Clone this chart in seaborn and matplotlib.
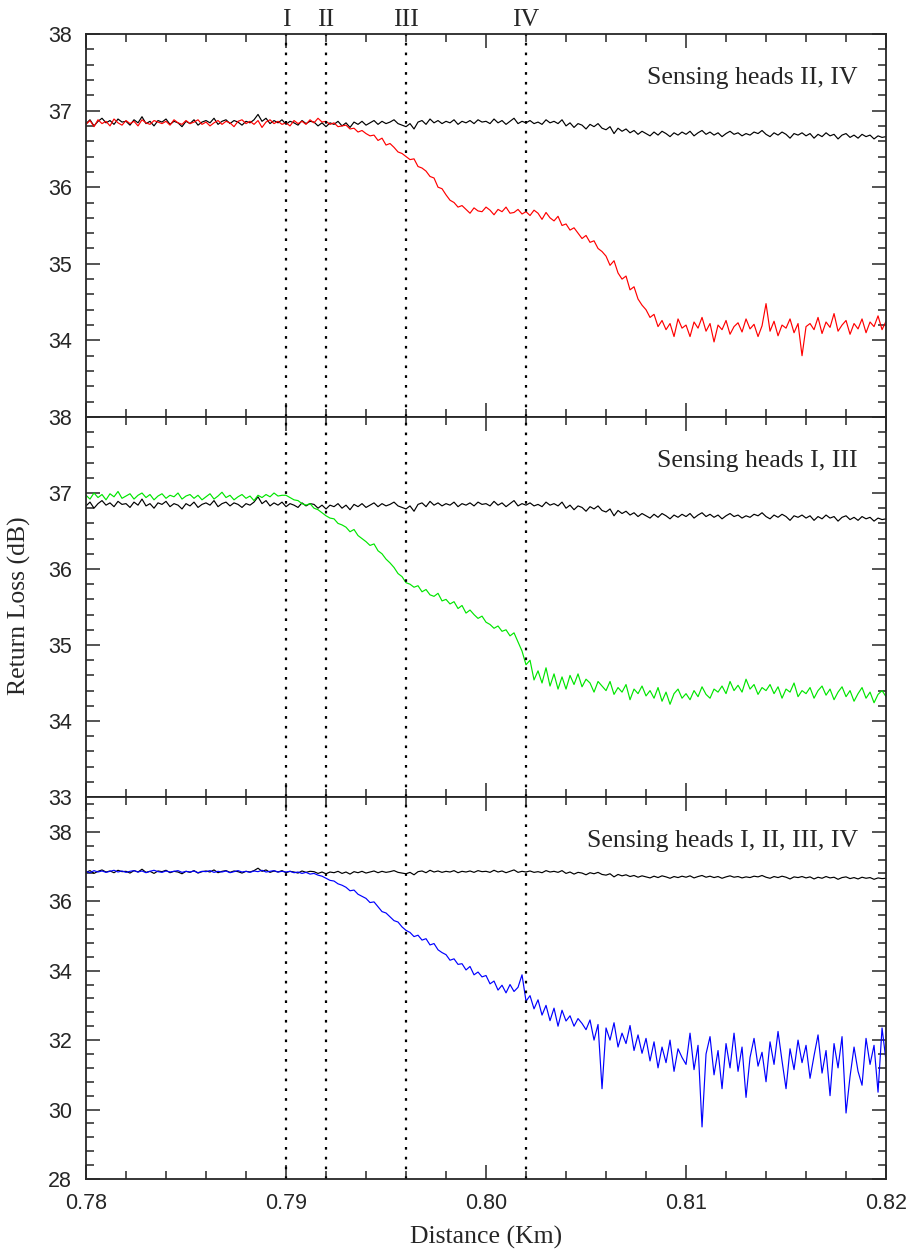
import numpy as np
import pandas as pd
import matplotlib
matplotlib.use("Agg")
import matplotlib.pyplot as plt
from matplotlib.ticker import MultipleLocator
import seaborn as sns

# DATA (one sample every 0.0002 km)
distance = np.round(0.78 + 0.0002 * np.arange(201), 4)

reference = [
    36.83, 36.88, 36.80, 36.86, 36.90, 36.84, 36.87, 36.82, 36.89, 36.85,
    36.86, 36.81, 36.88, 36.84, 36.92, 36.83, 36.86, 36.80, 36.87, 36.85,
    36.89, 36.82, 36.86, 36.84, 36.79, 36.86, 36.83, 36.88, 36.81, 36.85,
    36.87, 36.84, 36.90, 36.82, 36.86, 36.88, 36.83, 36.87, 36.85, 36.81,
    36.86, 36.84, 36.88, 36.95, 36.86, 36.90, 36.83, 36.87, 36.84, 36.88,
    36.82, 36.86, 36.84, 36.81, 36.87, 36.83, 36.86, 36.85, 36.80, 36.84,
    36.79, 36.84, 36.82, 36.86, 36.80, 36.84, 36.78, 36.85, 36.82, 36.86,
    36.81, 36.84, 36.87, 36.82, 36.86, 36.83, 36.85, 36.88, 36.83, 36.81,
    36.79, 36.83, 36.76, 36.85, 36.87, 36.82, 36.89, 36.84, 36.87, 36.83,
    36.86, 36.84, 36.88, 36.82, 36.86, 36.84, 36.87, 36.83, 36.88, 36.85,
    36.86, 36.83, 36.89, 36.84, 36.87, 36.82, 36.86, 36.90, 36.83, 36.86,
    36.84, 36.87, 36.83, 36.85, 36.82, 36.88, 36.84, 36.86, 36.83, 36.88,
    36.80, 36.84, 36.78, 36.83, 36.81, 36.76, 36.82, 36.79, 36.83, 36.77,
    36.75, 36.79, 36.70, 36.77, 36.73, 36.76, 36.71, 36.74, 36.69, 36.73,
    36.70, 36.67, 36.72, 36.68, 36.73, 36.70, 36.66, 36.71, 36.68, 36.72,
    36.69, 36.73, 36.67, 36.71, 36.74, 36.69, 36.72, 36.68, 36.71, 36.66,
    36.70, 36.73, 36.69, 36.71, 36.67, 36.70, 36.68, 36.72, 36.70, 36.74,
    36.69, 36.66, 36.71, 36.68, 36.72, 36.69, 36.64, 36.70, 36.68, 36.71,
    36.67, 36.70, 36.64, 36.69, 36.66, 36.71, 36.67, 36.69, 36.63, 36.68,
    36.70, 36.65, 36.68, 36.64, 36.69, 36.66, 36.68, 36.63, 36.67, 36.65,
    36.66,
]

heads_2_4 = [
    36.82, 36.87, 36.79, 36.88, 36.83, 36.86, 36.80, 36.89, 36.84, 36.81,
    36.87, 36.83, 36.86, 36.80, 36.88, 36.84, 36.82, 36.87, 36.85, 36.83,
    36.86, 36.81, 36.88, 36.84, 36.82, 36.87, 36.83, 36.85, 36.88, 36.82,
    36.85, 36.80, 36.84, 36.87, 36.82, 36.86, 36.84, 36.79, 36.86, 36.88,
    36.83, 36.86, 36.82, 36.87, 36.78, 36.85, 36.88, 36.83, 36.86, 36.82,
    36.84, 36.80, 36.87, 36.83, 36.86, 36.82, 36.88, 36.84, 36.90, 36.85,
    36.86, 36.82, 36.84, 36.79, 36.80, 36.81, 36.76, 36.77, 36.72, 36.74,
    36.70, 36.67, 36.68, 36.61, 36.64, 36.55, 36.57, 36.52, 36.46, 36.44,
    36.40, 36.36, 36.37, 36.27, 36.25, 36.21, 36.14, 36.12, 36.00, 35.98,
    35.90, 35.83, 35.80, 35.74, 35.76, 35.71, 35.66, 35.73, 35.69, 35.68,
    35.74, 35.70, 35.64, 35.71, 35.68, 35.74, 35.66, 35.67, 35.71, 35.65,
    35.68, 35.63, 35.70, 35.66, 35.58, 35.67, 35.60, 35.56, 35.62, 35.50,
    35.52, 35.44, 35.47, 35.40, 35.33, 35.37, 35.28, 35.30, 35.20, 35.16,
    35.10, 34.98, 35.04, 34.88, 34.80, 34.84, 34.66, 34.70, 34.54, 34.46,
    34.40, 34.30, 34.34, 34.18, 34.26, 34.14, 34.22, 34.05, 34.28, 34.16,
    34.20, 34.05, 34.24, 34.16, 34.30, 34.12, 34.22, 33.98, 34.20, 34.14,
    34.26, 34.08, 34.18, 34.23, 34.11, 34.28, 34.15, 34.21, 34.05, 34.19,
    34.48, 34.12, 34.25, 34.06, 34.20, 34.16, 34.28, 34.10, 34.22, 33.80,
    34.18, 34.22, 34.14, 34.30, 34.09, 34.24, 34.17, 34.35, 34.12, 34.20,
    34.26, 34.08, 34.22, 34.15, 34.28, 34.10, 34.24, 34.18, 34.32, 34.14,
    34.25,
]

heads_1_3 = [
    36.97, 36.92, 37.00, 36.94, 36.98, 36.91, 36.99, 36.95, 37.02, 36.93,
    36.96, 36.99, 36.92, 36.97, 37.00, 36.94, 36.98, 36.91, 36.96, 36.99,
    36.93, 36.97, 36.95, 37.00, 36.92, 36.96, 36.98, 36.93, 36.97, 36.91,
    36.95, 36.99, 36.92, 36.96, 37.01, 36.94, 36.97, 36.91, 36.95, 36.98,
    36.93, 36.96, 36.90, 36.97, 36.94, 36.98, 36.95, 37.00, 36.96, 36.97,
    36.97, 36.94, 36.91, 36.90, 36.86, 36.84, 36.86, 36.80, 36.78, 36.74,
    36.70, 36.67, 36.66, 36.60, 36.58, 36.55, 36.49, 36.52, 36.44, 36.40,
    36.36, 36.31, 36.33, 36.24, 36.20, 36.13, 36.08, 36.02, 35.94, 35.90,
    35.82, 35.80, 35.76, 35.78, 35.70, 35.73, 35.66, 35.64, 35.68, 35.58,
    35.60, 35.54, 35.57, 35.48, 35.52, 35.42, 35.46, 35.40, 35.35, 35.38,
    35.30, 35.27, 35.22, 35.25, 35.18, 35.20, 35.12, 35.16, 35.04, 34.92,
    34.74, 34.80, 34.54, 34.66, 34.50, 34.70, 34.46, 34.62, 34.42, 34.58,
    34.42, 34.60, 34.48, 34.62, 34.45, 34.55, 34.50, 34.38, 34.52, 34.46,
    34.40, 34.52, 34.35, 34.44, 34.38, 34.48, 34.28, 34.42, 34.36, 34.46,
    34.33, 34.40, 34.30, 34.44, 34.26, 34.38, 34.22, 34.36, 34.42, 34.30,
    34.36, 34.28, 34.40, 34.32, 34.45, 34.35, 34.30, 34.42, 34.38, 34.46,
    34.36, 34.52, 34.40, 34.47, 34.38, 34.55, 34.42, 34.48, 34.35, 34.44,
    34.40, 34.48, 34.36, 34.45, 34.30, 34.42, 34.38, 34.50, 34.32, 34.40,
    34.36, 34.44, 34.30, 34.40, 34.46, 34.34, 34.42, 34.28, 34.38, 34.45,
    34.32, 34.40, 34.26, 34.36, 34.44, 34.30, 34.38, 34.24, 34.35, 34.40,
    34.32,
]

heads_all = [
    36.86, 36.82, 36.88, 36.84, 36.87, 36.83, 36.86, 36.89, 36.84, 36.87,
    36.83, 36.86, 36.88, 36.84, 36.87, 36.82, 36.86, 36.89, 36.85, 36.83,
    36.87, 36.84, 36.86, 36.88, 36.83, 36.86, 36.84, 36.87, 36.82, 36.86,
    36.85, 36.88, 36.83, 36.86, 36.84, 36.87, 36.82, 36.85, 36.88, 36.84,
    36.86, 36.83, 36.87, 36.85, 36.89, 36.84, 36.86, 36.88, 36.84, 36.86,
    36.84, 36.86, 36.82, 36.84, 36.80, 36.83, 36.78, 36.80, 36.75, 36.72,
    36.66, 36.60, 36.58, 36.50, 36.46, 36.40, 36.30, 36.32, 36.20, 36.14,
    36.08, 35.96, 35.98, 35.84, 35.70, 35.66, 35.55, 35.44, 35.40, 35.26,
    35.16, 35.10, 34.98, 35.02, 34.88, 34.92, 34.74, 34.78, 34.60, 34.52,
    34.46, 34.30, 34.34, 34.18, 34.20, 34.02, 34.12, 33.88, 33.96, 33.82,
    33.86, 33.62, 33.70, 33.44, 33.58, 33.36, 33.60, 33.40, 33.52, 33.88,
    33.12, 33.28, 32.90, 33.16, 32.72, 33.00, 32.56, 32.92, 32.40, 32.86,
    32.55, 32.70, 32.40, 32.62, 32.48, 32.30, 32.58, 32.00, 32.45, 30.60,
    32.35, 32.00, 32.50, 31.80, 32.20, 31.90, 32.42, 31.70, 32.15, 31.62,
    32.05, 31.40, 31.95, 31.20, 31.80, 31.35, 32.00, 31.10, 31.75, 31.50,
    31.30, 32.20, 31.15, 31.85, 29.50, 31.60, 32.10, 31.00, 31.70, 30.60,
    31.90, 31.20, 32.20, 31.10, 31.80, 30.35, 31.50, 32.05, 31.25, 31.65,
    30.80, 31.95, 31.30, 32.25, 31.40, 30.60, 31.75, 31.15, 32.00, 31.35,
    31.85, 30.90, 31.55, 32.15, 31.05, 31.70, 30.40, 31.90, 31.20, 32.10,
    29.90, 30.95, 31.80, 31.10, 30.70, 32.05, 31.30, 31.85, 30.50, 32.35,
    31.40,
]

head_positions = [0.790, 0.792, 0.796, 0.802]
head_names = ["I", "II", "III", "IV"]

x_ticks = [0.78, 0.79, 0.80, 0.81, 0.82]
x_labels = ["0.78", "0.79", "0.80", "0.81", "0.82"]

panel_titles = ["Sensing heads II, IV", "Sensing heads I, III", "Sensing heads I, II, III, IV"]
panel_series = [heads_2_4, heads_1_3, heads_all]
panel_colors = ["#ff0000", "#00e600", "#0000ff"]
panel_ylims = [(33, 38), (33, 38), (28, 39)]
panel_yticks = [[34, 35, 36, 37, 38], [33, 34, 35, 36, 37, 38], [28, 30, 32, 34, 36, 38]]
panel_yminor = [0.2, 0.2, 0.4]

# PLOT
sns.set_style("ticks")
plt.rcParams["font.family"] = ["Liberation Sans", "DejaVu Sans"]
serif = ["Liberation Serif", "DejaVu Serif"]

fig, axes = plt.subplots(3, 1, figsize=(9.11, 12.54), dpi=100, sharex=True,
                         gridspec_kw={"height_ratios": [383, 380, 382], "hspace": 0})
fig.subplots_adjust(left=0.0944, right=0.9726, top=0.9729, bottom=0.0598)

for ax, series, color, ylim, yticks, yminor, title in zip(
        axes, panel_series, panel_colors, panel_ylims, panel_yticks, panel_yminor, panel_titles):
    df = pd.DataFrame({"distance": distance, "reference": reference, "signal": series})
    sns.lineplot(data=df, x="distance", y="reference", ax=ax, color="black",
                 lw=0.85, estimator=None)
    sns.lineplot(data=df, x="distance", y="signal", ax=ax, color=color,
                 lw=0.85, estimator=None)
    for pos in head_positions:
        ax.axvline(pos, color="black", lw=1.6, linestyle=(0, (1.2, 3.2)))
    ax.set_xticks(x_ticks)
    ax.xaxis.set_minor_locator(MultipleLocator(0.002))
    ax.set_xlim(0.78, 0.82)
    ax.set_ylim(*ylim)
    ax.set_yticks(yticks)
    ax.yaxis.set_minor_locator(MultipleLocator(yminor))
    ax.tick_params(which="both", direction="in", top=True, right=True, width=1.1)
    ax.tick_params(which="major", length=10, pad=10, labelsize=15.5)
    ax.tick_params(which="minor", length=5.5)
    ax.set_xlabel("")
    ax.set_ylabel("")
    for s in ax.spines.values():
        s.set_linewidth(1.3)
    ax.text(0.965, 0.885, title, transform=ax.transAxes, ha="right", va="center",
            fontsize=18.5, family=serif)

axes[-1].set_xticklabels(x_labels)

for pos, name in zip(head_positions, head_names):
    axes[0].text(pos, 1.008, name, transform=axes[0].get_xaxis_transform(),
                 ha="center", va="bottom", fontsize=18.5, family=serif)

fig.text(0.021, 0.517, "Return Loss (dB)", rotation=90, ha="center", va="center",
         fontsize=18.5, family=serif)
fig.text(0.533, 0.013, "Distance (Km)", ha="center", va="center", fontsize=18.5, family=serif)

plt.savefig("out.png", dpi=100)
